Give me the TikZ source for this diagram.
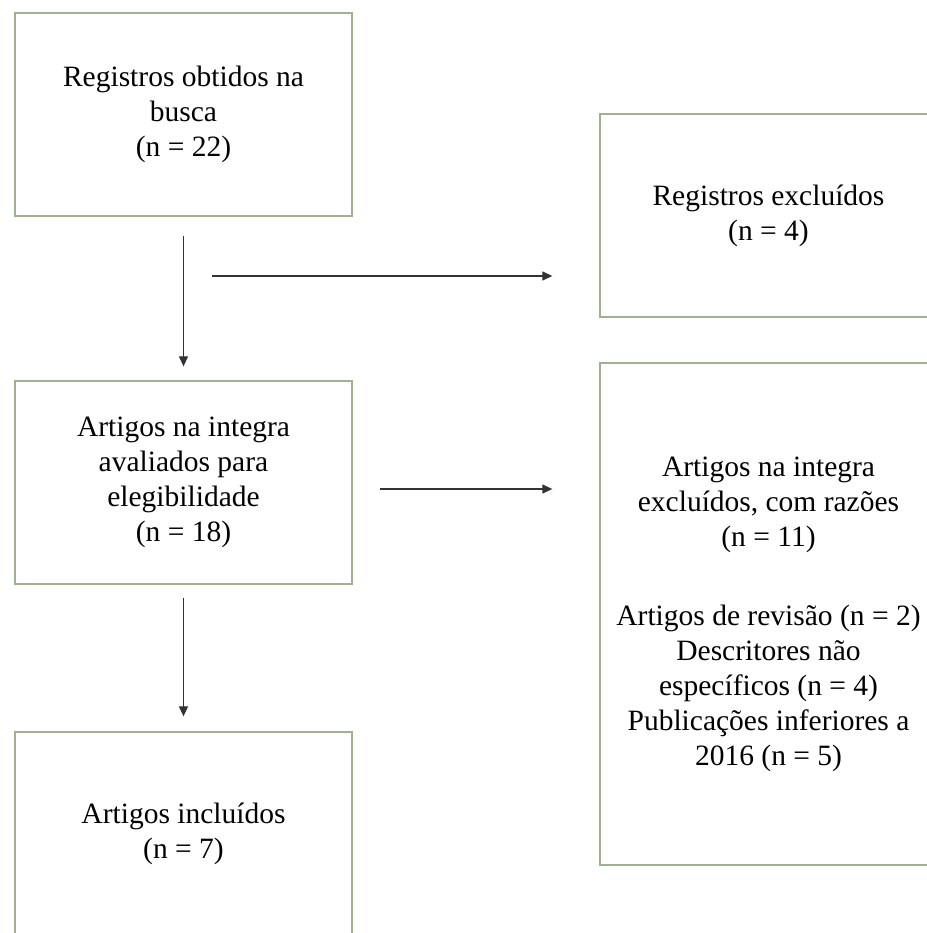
\documentclass[tikz,border=0pt]{standalone}
\usepackage{fontspec}
\setmainfont{Liberation Serif}
\usetikzlibrary{arrows.meta}
\definecolor{boxline}{RGB}{160,176,144}

\tikzset{
    etapa/.style={draw=boxline, line width=1.3pt, align=center, inner sep=0pt,
        minimum width=337pt, minimum height=203pt,
        font=\fontsize{29.5}{35}\selectfont},
    fluxo/.style={draw=black!80, line width=1.2pt, -{Triangle[length=10pt,width=9pt]}}
}

\begin{document}
\begin{tikzpicture}[x=1pt, y=-1pt]
        \useasboundingbox (0,0) rectangle (926,933);

        % coluna da esquerda
        \node[etapa] (busca) at (183.5,114.5) {Registros obtidos na\\busca\\(n = 22)};
        \node[etapa] (avaliados) at (183.5,482.5) {Artigos na integra\\avaliados para\\elegibilidade\\(n = 18)};
        \node[etapa] (incluidos) at (183.5,833.5) {Artigos incluídos\\(n = 7)};

        % coluna da direita
        \node[etapa] (excluidos) at (768.5,215.5) {Registros excluídos\\(n = 4)};
        \node[etapa, minimum height=502pt] (razoes) at (768.5,614) {Artigos na integra\\excluídos, com razões\\(n = 11)\\[44pt]Artigos de revisão (n = 2)\\Descritores não\\específicos (n = 4)\\Publicações inferiores a\\2016 (n = 5)};

        % setas
        \coordinate (h1) at (212,276);
        \coordinate (h2) at (380,489);
        \draw [fluxo, shorten <=19pt, shorten >=14pt] (busca.south) -- (avaliados.north);
        \draw [fluxo, shorten <=13pt, shorten >=15pt] (avaliados.south) -- (incluidos.north);
        \draw [fluxo, shorten >=47pt] (h1) -- (h1 -| excluidos.west);
        \draw [fluxo, shorten >=47pt] (h2) -- (h2 -| razoes.west);
    \end{tikzpicture}
\end{document}
